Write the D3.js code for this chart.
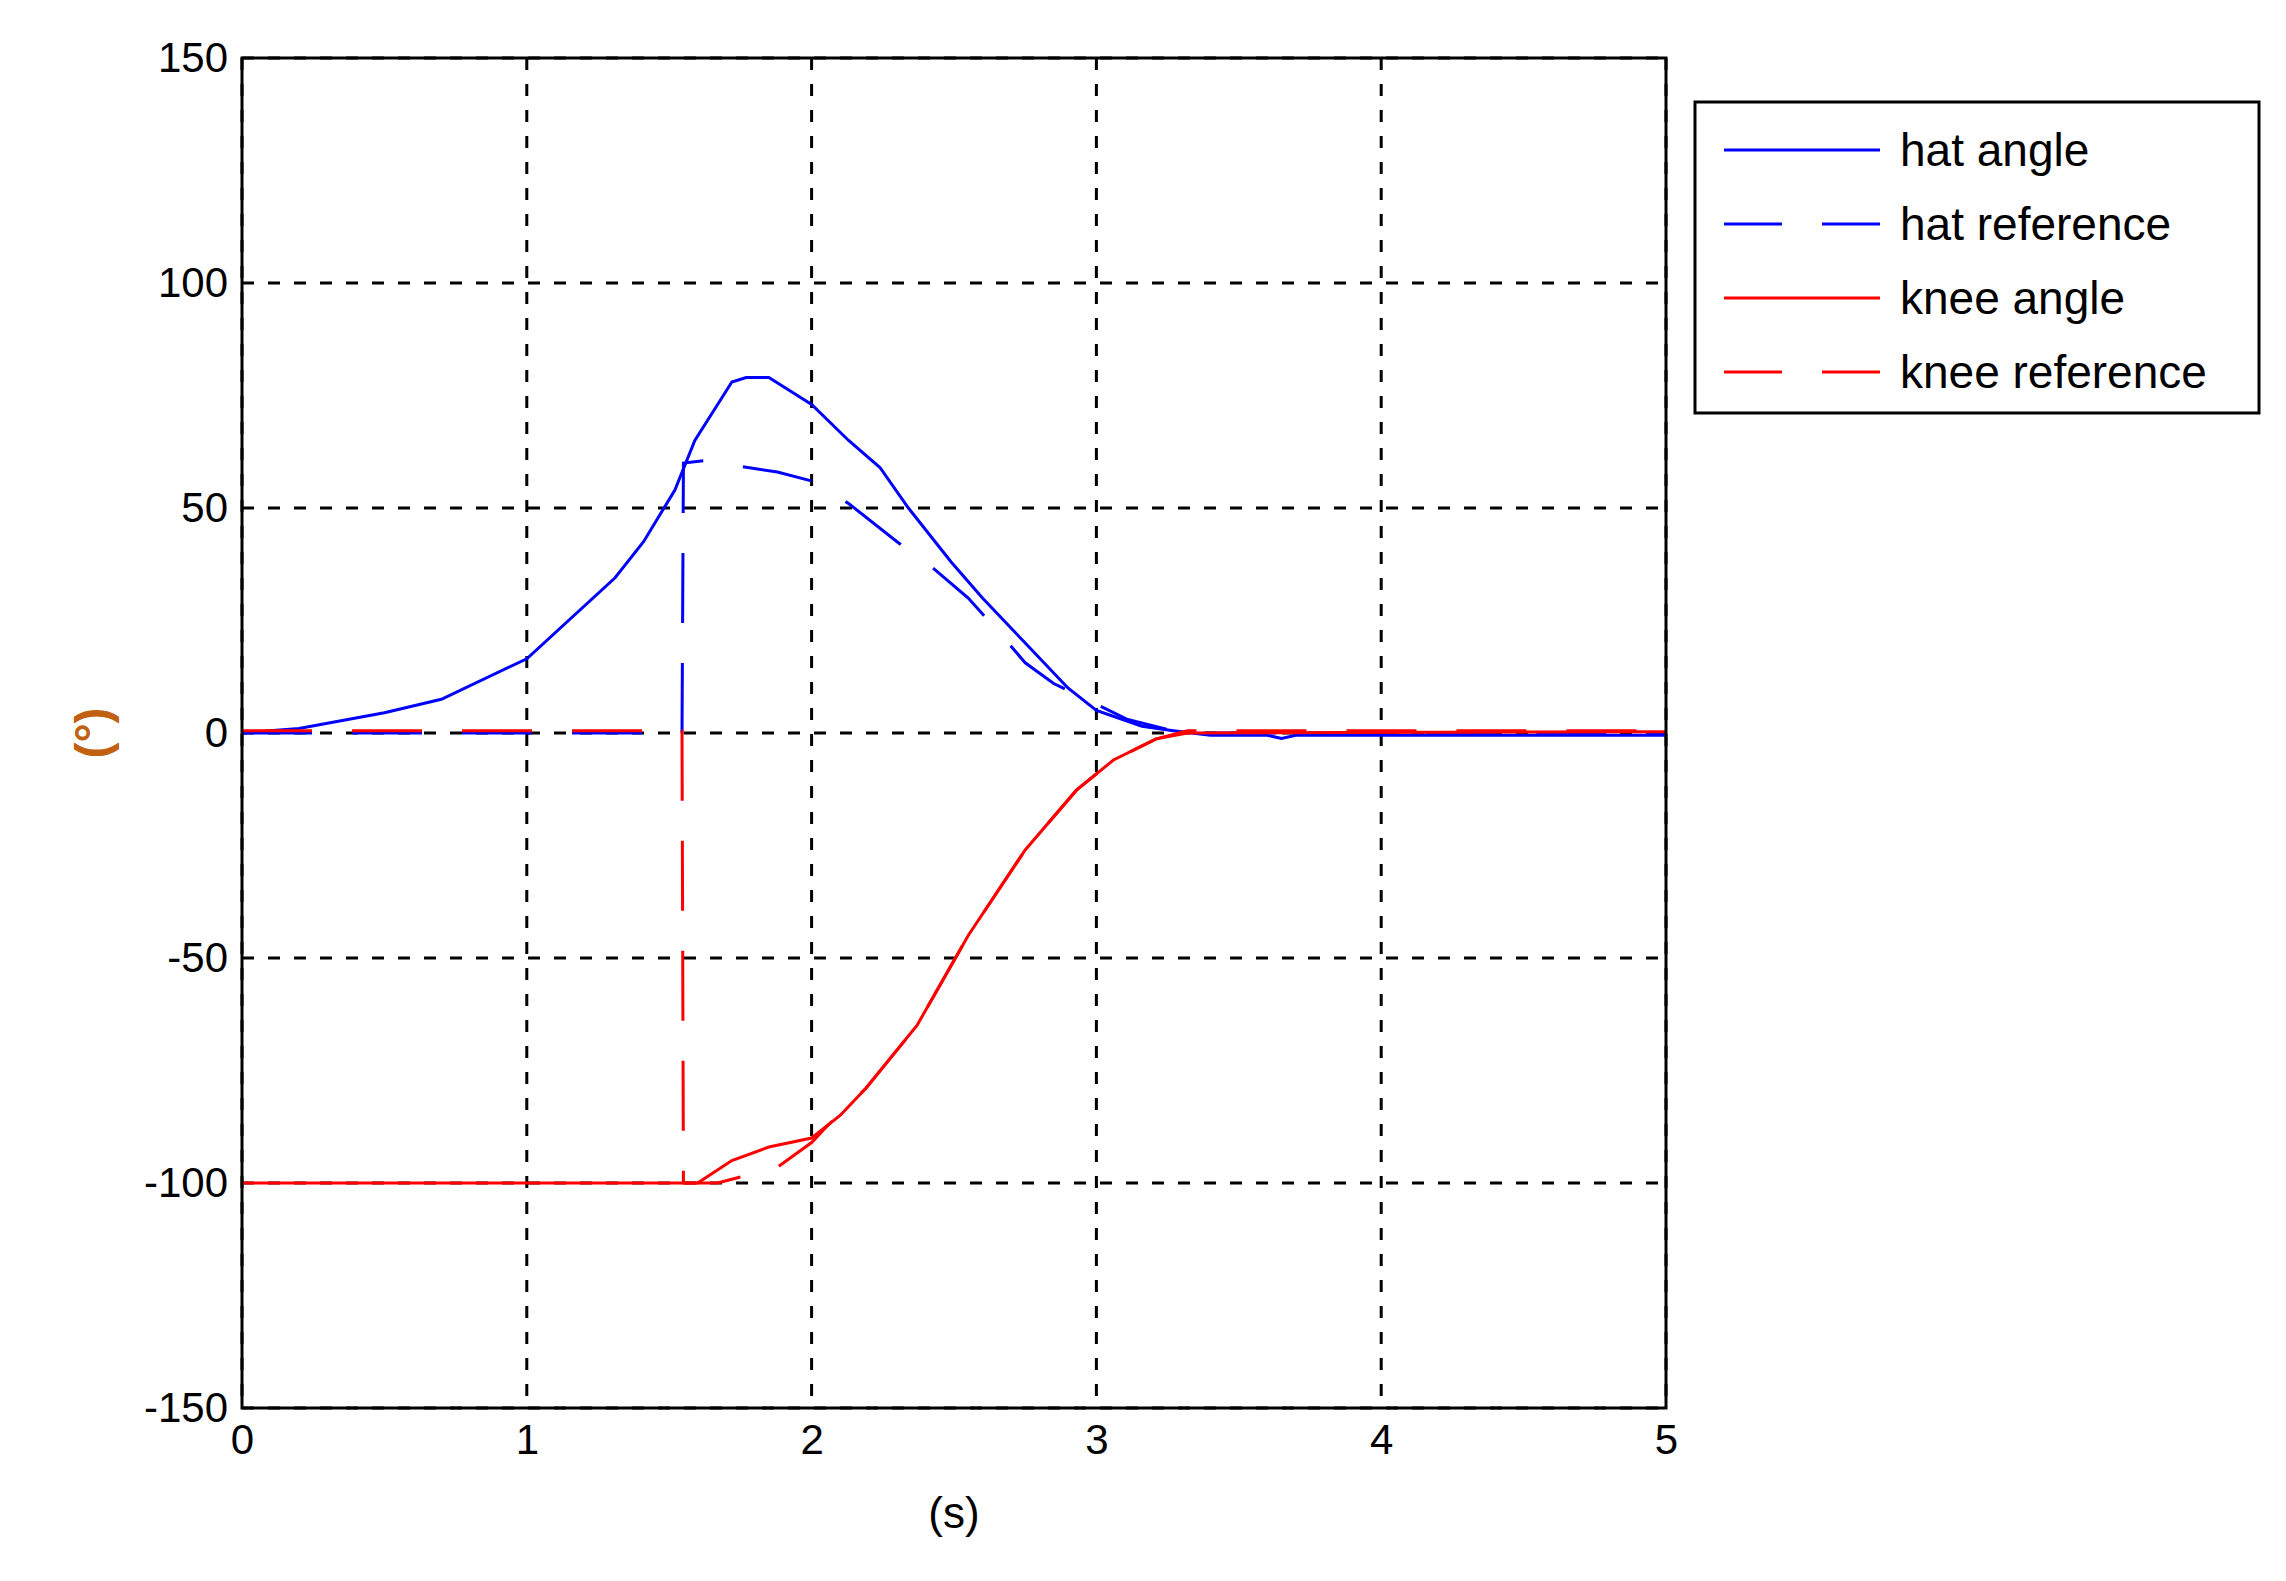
<!DOCTYPE html>
<html>
<head>
<meta charset="utf-8">
<script src="https://cdn.jsdelivr.net/npm/d3@7"></script>
<style>
body { margin: 0; background: #fff; }
text { font-family: "Liberation Sans", Arial, sans-serif; }
</style>
</head>
<body>
<div id="chart"></div>
<script>
var svgWidth = 2286;
var svgHeight = 1581;
var margin = { top: 58, bottom: 173, left: 242, right: 620 };
var chartWidth = svgWidth - margin.left - margin.right;
var chartHeight = svgHeight - margin.top - margin.bottom;

var xTicks = [0, 1, 2, 3, 4, 5];
var yTicks = [-150, -100, -50, 0, 50, 100, 150];
var seriesNames = ["hat angle", "hat reference", "knee angle", "knee reference"];

var hatAngleT = [0, 0.2, 0.5, 0.7, 1.0, 1.31, 1.41, 1.52, 1.59, 1.67, 1.72, 1.77, 1.85, 2.0, 2.13, 2.24, 2.34, 2.49, 2.6, 2.75, 2.9, 3.0, 3.16, 3.27, 3.4, 3.6, 3.65, 3.7, 5];
var hatAngleV = [0, 1, 4.5, 7.5, 16.5, 34.5, 42.5, 54, 65, 73, 78, 79, 79, 73, 65, 59, 50, 38, 30, 20, 10, 5, 1.5, 0.5, -0.5, -0.5, -1.2, -0.5, -0.5];

var hatRefT = [0, 1.545, 1.55, 1.62, 1.88, 2.0, 2.13, 2.3, 2.42, 2.55, 2.67, 2.75, 2.85, 2.98, 3.11, 3.27, 3.4, 5];
var hatRefV = [0, 0, 60, 60.5, 58, 56, 51, 42.5, 37, 30, 21.5, 15.6, 11, 7, 3, 0.5, 0, 0];

var kneeAngleT = [0, 1.6, 1.72, 1.85, 2.0, 2.1, 2.19, 2.37, 2.55, 2.75, 2.93, 3.06, 3.21, 3.32, 5];
var kneeAngleV = [-100, -100, -95, -92, -90, -85, -79, -65, -45, -26, -12.7, -6, -1.3, 0, 0.3];

var kneeRefT = [0, 1.545, 1.55, 1.67, 1.88, 2.0, 2.06, 2.19, 2.37, 2.55, 2.75, 2.93, 3.06, 3.21, 3.32, 5];
var kneeRefV = [0.5, 0.5, -100, -100, -96.5, -91, -87, -79, -65, -45, -26, -12.7, -6, -1.3, 0.5, 0.5];

function zip(t, v) { return t.map(function(d, i) { return [d, v[i]]; }); }

var series = [
  { name: seriesNames[0], data: zip(hatAngleT, hatAngleV), color: "#0000ff", dash: null },
  { name: seriesNames[1], data: zip(hatRefT, hatRefV), color: "#0000ff", dash: "70,40" },
  { name: seriesNames[2], data: zip(kneeAngleT, kneeAngleV), color: "#ff0000", dash: null },
  { name: seriesNames[3], data: zip(kneeRefT, kneeRefV), color: "#ff0000", dash: "70,40" }
];

var svg = d3.select("#chart").append("svg")
  .attr("width", svgWidth)
  .attr("height", svgHeight);

var chartGroup = svg.append("g").attr("transform", `translate(${margin.left}, ${margin.top})`);

var x = d3.scaleLinear().domain([0, 5]).range([0, chartWidth]);
var y = d3.scaleLinear().domain([-150, 150]).range([chartHeight, 0]);

// grid
chartGroup.selectAll(".vgrid").data(xTicks).enter().append("line")
  .attr("x1", d => x(d)).attr("x2", d => x(d))
  .attr("y1", 0).attr("y2", chartHeight)
  .attr("stroke", "#000").attr("stroke-width", 3).attr("stroke-dasharray", "12,14");
chartGroup.selectAll(".hgrid").data(yTicks).enter().append("line")
  .attr("x1", 0).attr("x2", chartWidth)
  .attr("y1", d => y(d)).attr("y2", d => y(d))
  .attr("stroke", "#000").attr("stroke-width", 3).attr("stroke-dasharray", "12,14");

var line = d3.line().x(d => x(d[0])).y(d => y(d[1]));

chartGroup.selectAll(".series").data(series).enter().append("path")
  .attr("d", d => line(d.data))
  .attr("fill", "none")
  .attr("stroke", d => d.color)
  .attr("stroke-width", 3)
  .attr("stroke-dasharray", d => d.dash);

// frame
chartGroup.append("rect")
  .attr("width", chartWidth).attr("height", chartHeight)
  .attr("fill", "none").attr("stroke", "#000").attr("stroke-width", 3);

var fmt = d => String(d);
var bottomAxis = d3.axisBottom(x).tickValues(xTicks).tickFormat(fmt).tickSize(0).tickPadding(16);
var leftAxis = d3.axisLeft(y).tickValues(yTicks).tickFormat(fmt).tickSize(0).tickPadding(14);

var gx = chartGroup.append("g").attr("transform", `translate(0, ${chartHeight})`).call(bottomAxis);
var gy = chartGroup.append("g").call(leftAxis);
[gx, gy].forEach(function(g) {
  g.select(".domain").remove();
  g.selectAll("text").style("font-size", "42px").attr("fill", "#000")
    .style("font-family", "'Liberation Sans', Arial, sans-serif");
});

chartGroup.append("text")
  .attr("x", chartWidth / 2).attr("y", chartHeight + 120)
  .attr("text-anchor", "middle")
  .style("font-size", "44px")
  .text("(s)");

chartGroup.append("text")
  .attr("transform", `translate(-150, ${y(0)}) rotate(-90)`)
  .attr("text-anchor", "middle")
  .attr("dy", "0.35em")
  .style("font-size", "48px")
  .style("font-weight", "bold")
  .attr("fill", "#c06010")
  .text("(°)");

// legend
var legend = svg.append("g").attr("transform", "translate(1695, 102)");
legend.append("rect")
  .attr("width", 564).attr("height", 311)
  .attr("fill", "#fff").attr("stroke", "#000").attr("stroke-width", 3);
var rows = legend.selectAll(".row").data(series).enter().append("g")
  .attr("transform", (d, i) => `translate(0, ${48 + i * 74})`);
rows.append("line")
  .attr("x1", 29).attr("x2", 185)
  .attr("stroke", d => d.color).attr("stroke-width", 3)
  .attr("stroke-dasharray", d => d.dash ? "58,40" : null);
rows.append("text")
  .attr("x", 205).attr("dy", "0.35em")
  .style("font-size", "46px")
  .text(d => d.name);
</script>
</body>
</html>
